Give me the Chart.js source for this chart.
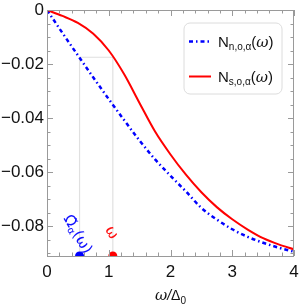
<!DOCTYPE html>
<html>
<head>
<meta charset="utf-8">
<script src="https://cdn.jsdelivr.net/npm/chart.js@4/dist/chart.umd.min.js"></script>
<style>
  html, body { margin: 0; padding: 0; background: #fff; }
  #wrap { width: 300px; height: 304px; position: relative; }
  canvas { display: block; }
</style>
</head>
<body>
<div id="wrap"><canvas id="c" width="300" height="304"></canvas></div>
<script>
// ---- data ----
const omegaGrid = [0, 0.25, 0.5, 0.75, 1.0, 1.25, 1.5, 1.75, 2.0, 2.25, 2.5, 2.75, 3.0, 3.25, 3.5, 3.75, 4.0];
const nNormal   = [0, -0.0085, -0.0168, -0.0250, -0.0330, -0.0408, -0.0484, -0.0553, -0.0614, -0.0672, -0.0733, -0.0776, -0.0812, -0.0840, -0.0862, -0.0880, -0.0895];
const nSuper    = [0, -0.0022, -0.0048, -0.0088, -0.0150, -0.0238, -0.0345, -0.0450, -0.0535, -0.0610, -0.0675, -0.0730, -0.0775, -0.0813, -0.0845, -0.0868, -0.0886];
const omegaMark  = 1.066;   // ω
const omegaTilde = 0.527;   // Ω̃α(ω)
const levelN     = -0.0175; // common level
const xTicks = [0, 1, 2, 3, 4];
const yTicks = [0, -0.02, -0.04, -0.06, -0.08];
const xRange = [0, 4];
const yRange = [-0.0911, 0];

const pts = (xs, ys) => xs.map((x, i) => ({ x: x, y: ys[i] }));
const fmt = v => v === 0 ? '0' : (v < 0 ? '\u2212' + Math.abs(v).toFixed(2) : v.toFixed(2));

const overlay = {
  id: 'overlay',
  afterDatasetsDraw(chart) {
    const ctx = chart.ctx, a = chart.chartArea;
    const xs = chart.scales.x, ys = chart.scales.y;
    ctx.save();
    // frame
    ctx.strokeStyle = '#9a9a9a';
    ctx.lineWidth = 1;
    ctx.strokeRect(Math.round(a.left) + 0.5, Math.round(a.top) + 0.5, Math.round(a.right - a.left) - 1, Math.round(a.bottom - a.top));
    // ticks (inside)
    ctx.beginPath();
    for (let v = 0; v <= 4.0001; v += 0.2) {
      const px = Math.round(xs.getPixelForValue(v)) + 0.5;
      const major = Math.abs(v - Math.round(v)) < 1e-6;
      const L = major ? 6 : 3.5;
      ctx.moveTo(px, a.bottom); ctx.lineTo(px, a.bottom - L);
      ctx.moveTo(px, a.top); ctx.lineTo(px, a.top + L);
    }
    for (let k = 0; k <= 18; k++) {
      const v = -0.005 * k;
      if (v < yRange[0]) break;
      const py = Math.round(ys.getPixelForValue(v)) + 0.5;
      const major = k % 4 === 0;
      const L = major ? 6 : 3.5;
      ctx.moveTo(a.left, py); ctx.lineTo(a.left + L, py);
      ctx.moveTo(a.right, py); ctx.lineTo(a.right - L, py);
    }
    ctx.stroke();

    // rotated labels
    const rot = Math.PI / 3;
    // blue Ω̃α(ω)
    ctx.save();
    ctx.translate(xs.getPixelForValue(0.49), ys.getPixelForValue(-0.0832));
    ctx.rotate(rot);
    ctx.fillStyle = '#1010ff';
    ctx.textBaseline = 'middle';
    const f1 = '15px "DejaVu Sans"', f1s = '10px "DejaVu Sans"';
    ctx.font = f1; const wO = ctx.measureText('\u03A9\u0303').width;
    ctx.font = f1s; const wA = ctx.measureText('\u03B1').width;
    ctx.font = f1; const wP = ctx.measureText('(\u03C9)').width;
    let x0 = -(wO + wA + wP) / 2;
    ctx.font = f1; ctx.fillText('\u03A9\u0303', x0, 0); x0 += wO;
    ctx.font = f1s; ctx.fillText('\u03B1', x0, 4); x0 += wA;
    ctx.font = f1; ctx.fillText('(\u03C9)', x0, 0);
    ctx.restore();
    // red ω
    ctx.save();
    ctx.translate(xs.getPixelForValue(1.04), ys.getPixelForValue(-0.0825));
    ctx.rotate(rot);
    ctx.fillStyle = '#ff1010';
    ctx.textBaseline = 'middle';
    ctx.textAlign = 'center';
    ctx.font = '15px "DejaVu Sans"';
    ctx.fillText('\u03C9', 0, 0);
    ctx.restore();

    // legend
    const lx = 184, ly = 23, lw = 98, lh = 71, r = 6;
    ctx.beginPath();
    ctx.moveTo(lx + r, ly);
    ctx.arcTo(lx + lw, ly, lx + lw, ly + lh, r);
    ctx.arcTo(lx + lw, ly + lh, lx, ly + lh, r);
    ctx.arcTo(lx, ly + lh, lx, ly, r);
    ctx.arcTo(lx, ly, lx + lw, ly, r);
    ctx.closePath();
    ctx.fillStyle = '#fff'; ctx.fill();
    ctx.strokeStyle = '#dcdcdc'; ctx.lineWidth = 1; ctx.stroke();
    const entries = [
      { sub: 'n,o,\u03B1', color: '#0000ff', dash: [4, 3, 1.5, 3], w: 2.5, y: 41.5 },
      { sub: 's,o,\u03B1', color: '#ff0000', dash: [], w: 2, y: 76.5 }
    ];
    entries.forEach(e => {
      ctx.beginPath();
      ctx.setLineDash(e.dash);
      ctx.strokeStyle = e.color; ctx.lineWidth = e.w;
      ctx.moveTo(189, e.y); ctx.lineTo(211, e.y); ctx.stroke();
      ctx.setLineDash([]);
      ctx.fillStyle = '#111';
      ctx.textBaseline = 'alphabetic';
      let tx = 218;
      const base = e.y + 5.5;
      ctx.font = '15px "Liberation Sans"'; ctx.fillText('N', tx, base); tx += ctx.measureText('N').width;
      ctx.font = '10px "Liberation Sans"'; ctx.fillText(e.sub, tx, base + 3); tx += ctx.measureText(e.sub).width;
      ctx.font = '15px "Liberation Sans"'; ctx.fillText('(', tx, base); tx += ctx.measureText('(').width;
      ctx.font = 'italic 15px "DejaVu Serif"'; ctx.fillText('\u03C9', tx, base); tx += ctx.measureText('\u03C9').width;
      ctx.font = '15px "Liberation Sans"'; ctx.fillText(')', tx, base);
    });

    // x-axis title ω/Δ0
    ctx.fillStyle = '#111';
    ctx.textBaseline = 'alphabetic';
    const parts = [
      { t: '\u03C9', f: 'italic 15px "DejaVu Serif"', dy: 0 },
      { t: '/', f: 'italic 14px "Liberation Sans"', dy: 0 },
      { t: '\u0394', f: '14px "Liberation Sans"', dy: 0 },
      { t: '0', f: '10px "Liberation Sans"', dy: 3.5 }
    ];
    let tw = 0;
    parts.forEach(p => { ctx.font = p.f; p.w = ctx.measureText(p.t).width; tw += p.w; });
    let ax = (a.left + a.right) / 2 - tw / 2;
    const ab = 300;
    parts.forEach(p => { ctx.font = p.f; ctx.fillText(p.t, ax, ab + p.dy); ax += p.w; });
    ctx.restore();
  }
};

new Chart(document.getElementById('c'), {
  type: 'scatter',
  data: {
    datasets: [
      { label: 'marks', data: [{ x: omegaTilde, y: yRange[0] }, { x: omegaMark, y: yRange[0] }],
        pointBackgroundColor: ['#0000ff', '#ff0000'], pointBorderWidth: 0, pointRadius: 4.5, showLine: false, order: 0 },
      { label: 'Ns', data: pts(omegaGrid, nSuper), showLine: true, borderColor: '#ff0000', borderWidth: 2,
        pointRadius: 0, cubicInterpolationMode: 'monotone', order: 1 },
      { label: 'Nn', data: pts(omegaGrid, nNormal), showLine: true, borderColor: '#0000ff', borderWidth: 2.5,
        borderDash: [4, 3, 1.5, 3], pointRadius: 0, cubicInterpolationMode: 'monotone', order: 2 },
      { label: 'construction', data: [{ x: omegaTilde, y: yRange[0] }, { x: omegaTilde, y: levelN }, { x: omegaMark, y: levelN }, { x: omegaMark, y: yRange[0] }],
        showLine: true, borderColor: '#e0e0e0', borderWidth: 1.2, pointRadius: 0, tension: 0, order: 3 }
    ]
  },
  options: {
    responsive: false,
    animation: false,
    devicePixelRatio: 1,
    layout: { padding: { top: 10, right: 6, left: 0, bottom: 0 } },
    plugins: { legend: { display: false }, tooltip: { enabled: false } },
    scales: {
      x: {
        type: 'linear', min: xRange[0], max: xRange[1],
        afterBuildTicks: s => { s.ticks = xTicks.map(v => ({ value: v })); },
        afterFit: s => { s.height = 48; s.paddingLeft = 0; s.paddingRight = 0; },
        grid: { display: false, drawTicks: false },
        border: { display: false },
        ticks: { padding: 6, color: '#111', font: { family: 'Liberation Sans', size: 17 }, maxRotation: 0, callback: v => String(v) }
      },
      y: {
        type: 'linear', min: yRange[0], max: yRange[1],
        afterBuildTicks: s => { s.ticks = yTicks.map(v => ({ value: v })); },
        afterFit: s => { s.width = 47; s.paddingTop = 0; s.paddingBottom = 0; },
        grid: { display: false, drawTicks: false },
        border: { display: false },
        ticks: { padding: 3, color: '#111', font: { family: 'Liberation Sans', size: 17 }, callback: v => fmt(v) }
      }
    }
  },
  plugins: [overlay]
});
</script>
</body>
</html>
